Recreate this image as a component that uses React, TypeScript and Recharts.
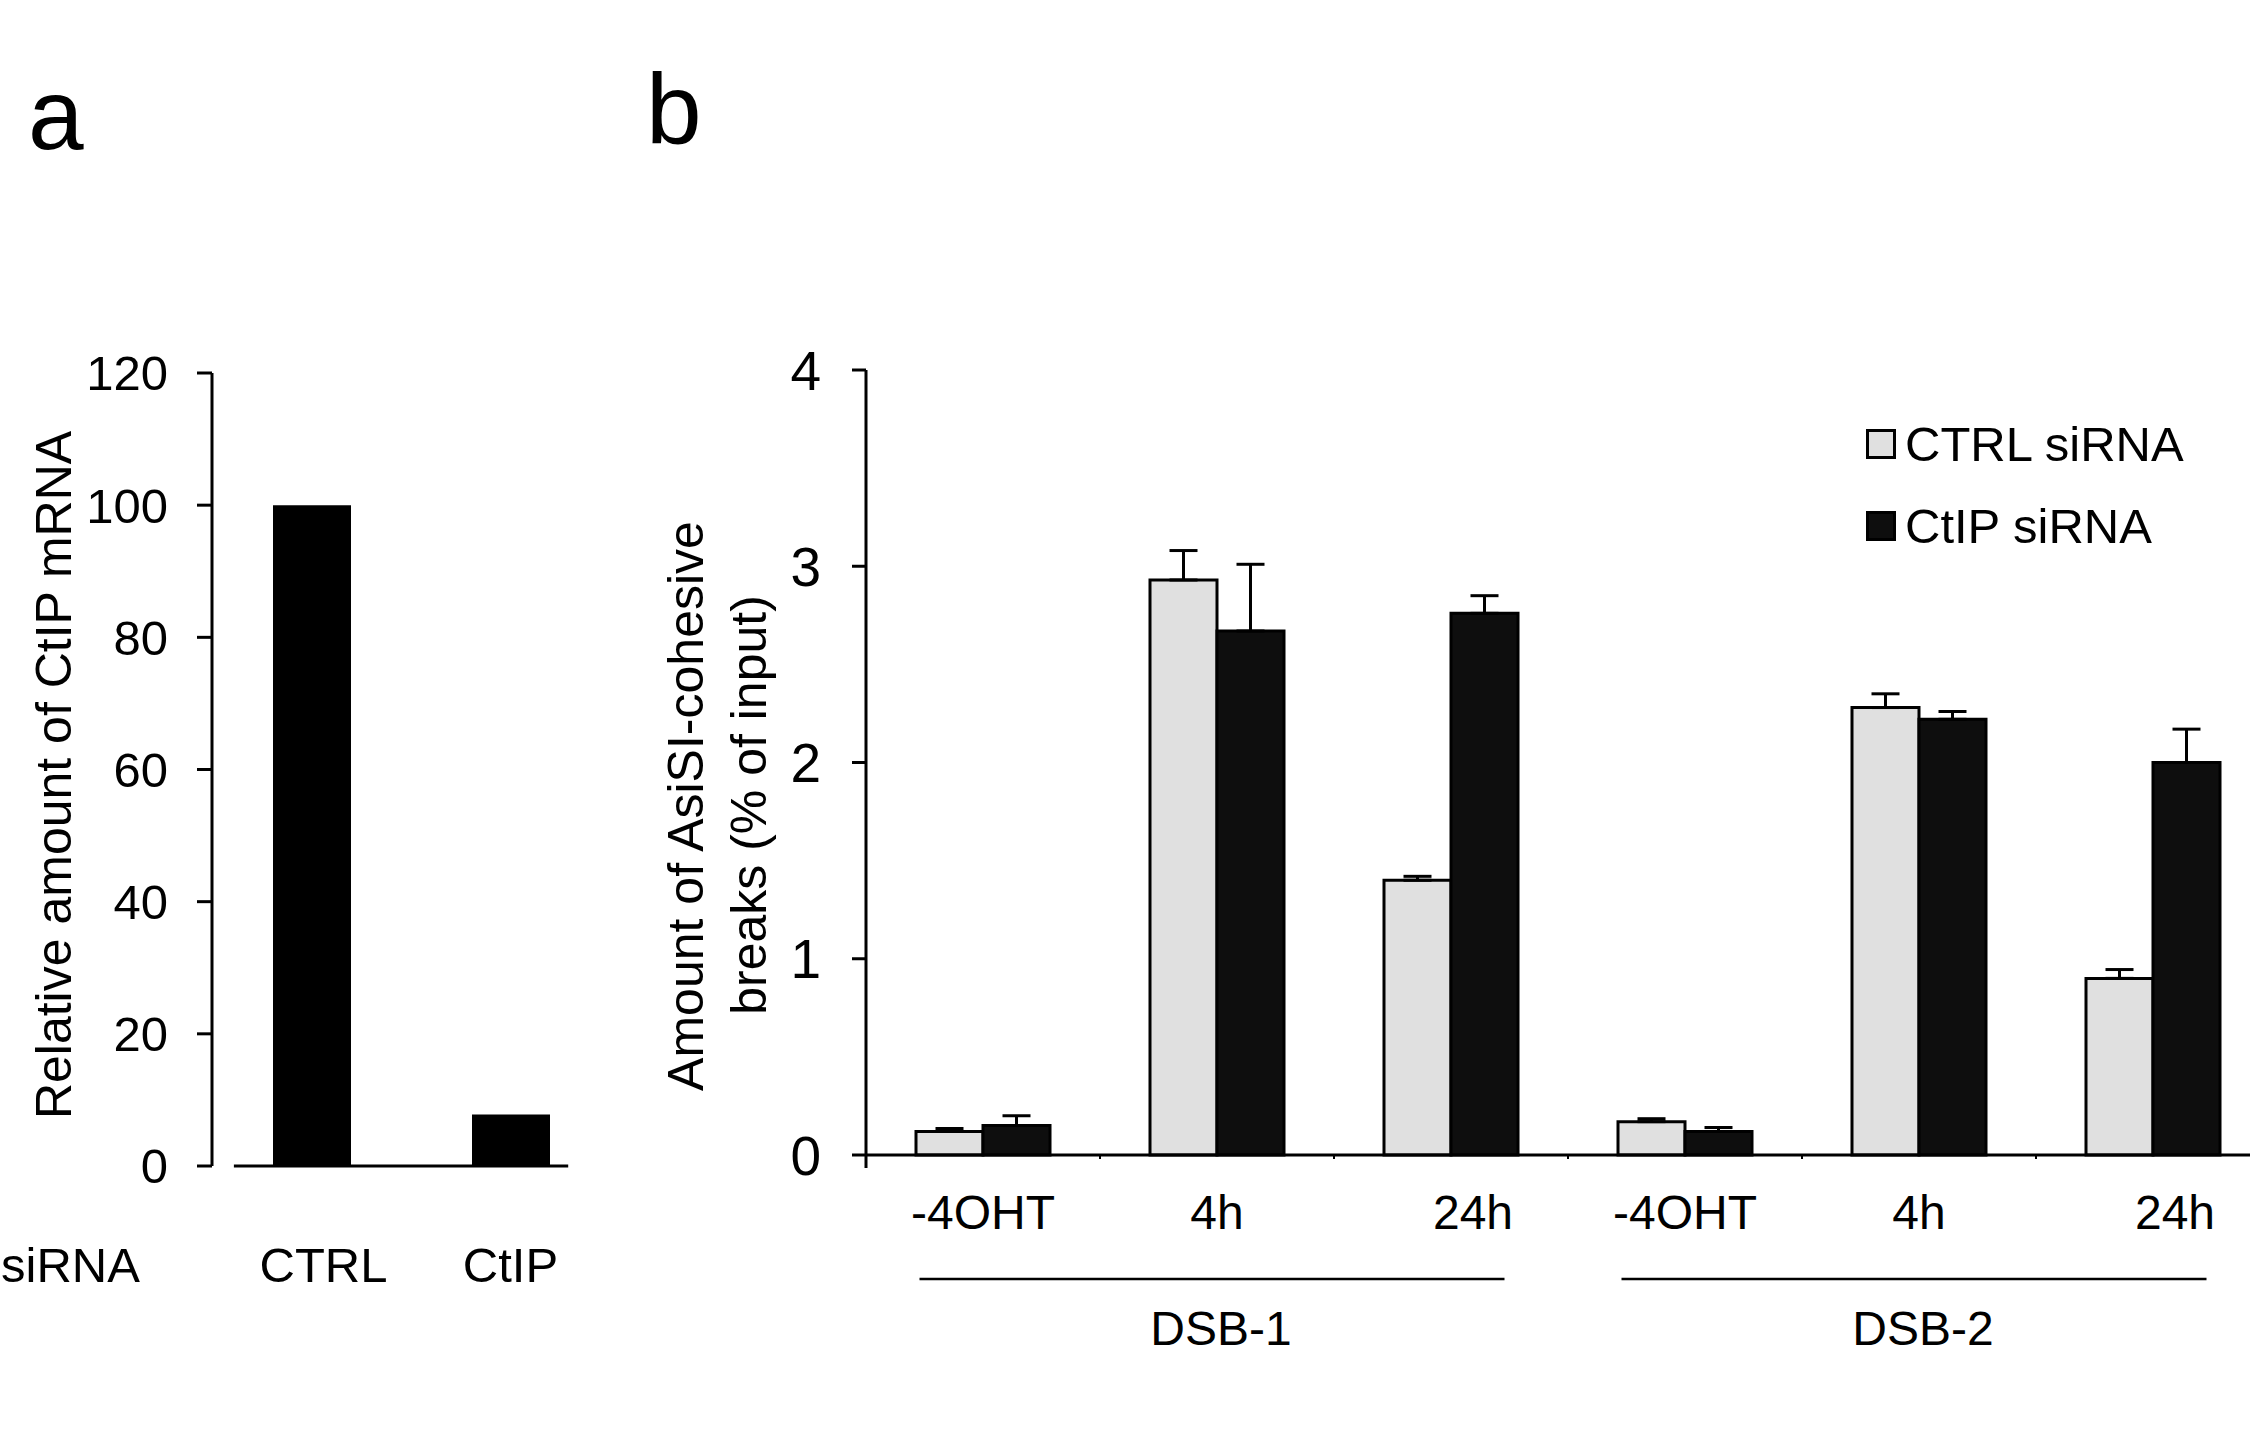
import { Bar, BarChart, ErrorBar, Legend, ReferenceLine, XAxis, YAxis } from 'recharts';

const FONT = '"Liberation Sans", Arial, Helvetica, sans-serif';

// panel a : CtIP knock-down
const siRNAs = ['CTRL', 'CtIP'];
const mRNALevel = [100, 7.8];
const mRNATicks = [0, 20, 40, 60, 80, 100, 120];

// panel b : AsiSI cohesive breaks
const sites = ['DSB-1', 'DSB-2'];
const timepoints = ['-4OHT', '4h', '24h'];
const ctrlBreaks = [0.12, 2.93, 1.4, 0.17, 2.28, 0.9];
const ctrlSem = [0.015, 0.15, 0.02, 0.015, 0.07, 0.045];
const ctipBreaks = [0.15, 2.67, 2.76, 0.12, 2.22, 2.0];
const ctipSem = [0.05, 0.34, 0.09, 0.02, 0.04, 0.17];
const breaksTicks = [0, 1, 2, 3, 4];

const LIGHT = '#e0e0e0';
const DARK = '#0e0e0e';

// x-axis line of panel a does not touch the y axis
const A_AXIS_FROM = 0.61;
const A_AXIS_TO = 2.29;

// the original labels are not quite centred under their bars
const LABEL_NUDGE: Record<string, number> = { CTRL: 12, '24h': 22 };

const mrnaData = siRNAs.map((name, i) => ({ pos: i + 1, name, value: mRNALevel[i] }));

const breaksData = sites.flatMap((site, g) =>
  timepoints.map((time, j) => {
    const i = g * timepoints.length + j;
    return {
      pos: i + 0.5,
      site,
      time,
      ctrl: ctrlBreaks[i],
      ctrlErr: [0, ctrlSem[i]],
      ctip: ctipBreaks[i],
      ctipErr: [0, ctipSem[i]],
    };
  })
);
const nCats = breaksData.length;
// boundaries (integers) + category centres (halves)
const breaksXTicks = Array.from({ length: nCats * 2 + 1 }, (_, k) => k / 2);

const B_PLOT_W = 1404;

function MrnaTick(props: any) {
  const { x, y, payload } = props;
  const row = mrnaData.find((d) => d.pos === payload.value);
  const name = row ? row.name : '';
  return (
    <text x={x + (LABEL_NUDGE[name] || 0)} y={y + 116} textAnchor="middle" fontSize={49} fontFamily={FONT} fill="#000">
      {name}
    </text>
  );
}

function BreaksTick(props: any) {
  const { x, y, payload } = props;
  const v = payload.value as number;
  const unit = B_PLOT_W / nCats;
  if (Number.isInteger(v)) {
    return <line x1={x} x2={x} y1={y} y2={y + (v === 0 ? 13 : 4)} stroke="#000" strokeWidth={v === 0 ? 3 : 2} />;
  }
  const idx = Math.floor(v);
  const row = breaksData[idx];
  const groupCentre = idx % timepoints.length === 1;
  return (
    <g>
      <text x={x + (LABEL_NUDGE[row.time] || 0)} y={y + 74} textAnchor="middle" fontSize={48} fontFamily={FONT} fill="#000">
        {row.time}
      </text>
      {groupCentre && (
        <g>
          <line x1={x - 1.25 * unit - 5} x2={x + 1.25 * unit - 5} y1={y + 124} y2={y + 124} stroke="#000" strokeWidth={2.5} />
          <text x={x + 4} y={y + 190} textAnchor="middle" fontSize={48} fontFamily={FONT} fill="#000">
            {row.site}
          </text>
        </g>
      )}
    </g>
  );
}

function LegendBox(props: any) {
  const items = props.payload || [];
  return (
    <div style={{ fontFamily: FONT, fontSize: 49, color: '#000' }}>
      {items.map((it: any) => (
        <div key={it.value} style={{ display: 'flex', alignItems: 'center', height: 82 }}>
          <span
            style={{
              display: 'inline-block',
              width: 24,
              height: 24,
              background: it.color,
              border: '3px solid #000',
              marginRight: 9,
            }}
          />
          <span style={{ lineHeight: 1 }}>{it.value}</span>
        </div>
      ))}
    </div>
  );
}

export default function App() {
  return (
    <div
      style={{
        position: 'absolute',
        left: 0,
        top: 0,
        width: 2250,
        height: 1436,
        overflow: 'hidden',
        background: '#fff',
        fontFamily: FONT,
      }}
    >
      {/* panel a */}
      <div style={{ position: 'absolute', left: 0, top: 300 }}>
        <BarChart width={700} height={996} data={mrnaData} margin={{ top: 73, right: 90, bottom: 0, left: 22 }}>
          <XAxis
            dataKey="pos"
            type="number"
            domain={[0.5, 2.5]}
            ticks={[1, 2]}
            interval={0}
            axisLine={false}
            tickLine={false}
            tickSize={0}
            tickMargin={0}
            height={130}
            tick={MrnaTick}
          />
          <YAxis
            domain={[0, 120]}
            ticks={mRNATicks}
            width={190}
            interval={0}
            tickSize={15}
            tickMargin={29}
            axisLine={{ stroke: '#000', strokeWidth: 3 }}
            tickLine={{ stroke: '#000', strokeWidth: 3 }}
            tick={{ fill: '#000', fontSize: 49, fontFamily: FONT }}
          />
          <Bar dataKey="value" fill="#000" barSize={78} isAnimationActive={false} />
          <ReferenceLine
            segment={[
              { x: A_AXIS_FROM, y: 0 },
              { x: A_AXIS_TO, y: 0 },
            ]}
            stroke="#000"
            strokeWidth={3}
            ifOverflow="visible"
          />
        </BarChart>
      </div>

      {/* panel b */}
      <div style={{ position: 'absolute', left: 640, top: 300 }}>
        <BarChart
          width={1700}
          height={1100}
          data={breaksData}
          barGap={0}
          margin={{ top: 70, right: 70, bottom: 45, left: 106 }}
        >
          <XAxis
            dataKey="pos"
            type="number"
            domain={[0, nCats]}
            ticks={breaksXTicks}
            interval={0}
            axisLine={{ stroke: '#000', strokeWidth: 3 }}
            tickLine={false}
            tickSize={0}
            tickMargin={0}
            height={200}
            tick={BreaksTick}
          />
          <YAxis
            domain={[0, 4]}
            ticks={breaksTicks}
            width={120}
            interval={0}
            tickSize={14}
            tickMargin={31}
            axisLine={{ stroke: '#000', strokeWidth: 3 }}
            tickLine={{ stroke: '#000', strokeWidth: 3 }}
            tick={{ fill: '#000', fontSize: 55, fontFamily: FONT }}
          />
          <Legend
            layout="vertical"
            align="center"
            verticalAlign="middle"
            wrapperStyle={{ position: 'absolute', left: 1226, top: 103, width: 420 }}
            content={LegendBox}
          />
          <Bar
            dataKey="ctrl"
            name="CTRL siRNA"
            fill={LIGHT}
            stroke="#000"
            strokeWidth={3}
            barSize={67}
            isAnimationActive={false}
          >
            <ErrorBar dataKey="ctrlErr" width={14} stroke="#000" strokeWidth={3} isAnimationActive={false} />
          </Bar>
          <Bar
            dataKey="ctip"
            name="CtIP siRNA"
            fill={DARK}
            stroke="#000"
            strokeWidth={3}
            barSize={67}
            isAnimationActive={false}
          >
            <ErrorBar dataKey="ctipErr" width={14} stroke="#000" strokeWidth={3} isAnimationActive={false} />
          </Bar>
        </BarChart>
      </div>

      {/* panel letters and axis titles */}
      <svg
        width={2250}
        height={1436}
        style={{ position: 'absolute', left: 0, top: 0, pointerEvents: 'none' }}
        fontFamily={FONT}
        fill="#000"
      >
        <text x={28} y={149} fontSize={100}>
          a
        </text>
        <text x={646} y={144} fontSize={100}>
          b
        </text>
        <text x={1} y={1282} fontSize={49}>
          siRNA
        </text>
        <text x={71} y={775} fontSize={50} textAnchor="middle" transform="rotate(-90 71 775)">
          Relative amount of CtIP mRNA
        </text>
        <text x={703} y={806} fontSize={50} textAnchor="middle" transform="rotate(-90 703 806)">
          Amount of AsiSI-cohesive
        </text>
        <text x={766} y={805} fontSize={50} textAnchor="middle" transform="rotate(-90 766 805)">
          breaks (% of input)
        </text>
      </svg>
    </div>
  );
}
